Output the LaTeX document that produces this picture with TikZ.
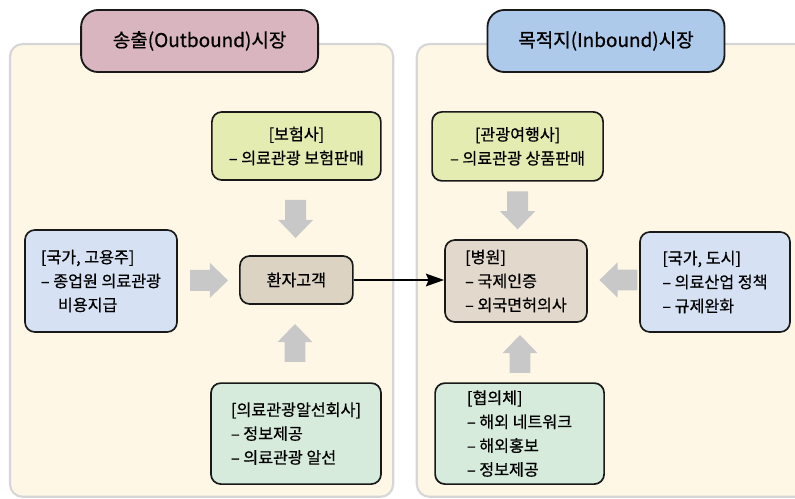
\documentclass[tikz,border=0pt]{standalone}
\usepackage{fontspec}
\setmainfont{Noto Sans CJK KR}[FakeBold=0.7]
\usetikzlibrary{arrows.meta}

\definecolor{panelfill}{HTML}{FFF7E5}
\definecolor{panelline}{HTML}{D6D6D6}
\definecolor{outfill}{HTML}{D9B5C0}
\definecolor{infill}{HTML}{AECAEA}
\definecolor{sellfill}{HTML}{E4ECB2}
\definecolor{govfill}{HTML}{D6E2F4}
\definecolor{patfill}{HTML}{DDD3C3}
\definecolor{hospfill}{HTML}{E2D8CB}
\definecolor{agentfill}{HTML}{D7EBDD}
\definecolor{arrowgray}{HTML}{C8C8C8}

\tikzset{
  panel/.style={draw=panelline, line width=1.5pt, fill=panelfill, rounded corners=9pt},
  marketbox/.style={draw=black!90, line width=1.3pt, rounded corners=12pt,
    minimum width=5.925cm, minimum height=1.55cm, font=\fontsize{13.5}{16}\selectfont},
  infobox/.style={draw=black!90, line width=1.2pt, rounded corners=7pt, inner sep=0pt,
    align=left, font=\fontsize{11.5}{17}\selectfont},
}

% gray block arrow: center, direction angle
\newcommand{\grayarrow}[2]{
  \fill[arrowgray, shift={(#1)}, rotate=#2]
    (-0.475,-0.26) -- (0.02,-0.26) -- (0.02,-0.44) -- (0.475,0)
    -- (0.02,0.44) -- (0.02,0.26) -- (-0.475,0.26) -- cycle;
}

\begin{document}
\begin{tikzpicture}
\useasboundingbox (0,0) rectangle (19.875,-12.475);

% market panels
\draw[panel] (0.25,-1.1) rectangle (9.83,-12.42);
\draw[panel] (10.42,-1.1) rectangle (20.4,-12.42);

\node[marketbox, fill=outfill] (outbound) at (4.99,-1.025) {송출(Outbound)시장};
\node[marketbox, fill=infill] (inbound) at (15.15,-1.025) {목적지(Inbound)시장};

% outbound side
\node[infobox, fill=sellfill, align=center, minimum width=4.225cm, minimum height=1.7cm]
  (insurer) at (7.41,-3.65) {[보험사]\\– 의료관광 보험판매};
\node[infobox, fill=govfill, minimum width=3.8cm, minimum height=2.55cm]
  (employer) at (2.525,-7.025) {[국가, 고용주]\\– 종업원 의료관광\\\hspace*{1.05em}비용지급};
\node[infobox, fill=patfill, align=center, minimum width=2.825cm, minimum height=1.2cm]
  (patient) at (7.41,-7.0) {환자고객};
\node[infobox, fill=agentfill, minimum width=4.25cm, minimum height=2.525cm]
  (agency) at (7.4,-10.84) {[의료관광알선회사]\\– 정보제공\\– 의료관광 알선};

% inbound side
\node[infobox, fill=sellfill, align=center, minimum width=4.275cm, minimum height=1.725cm]
  (travel) at (12.94,-3.66) {[관광여행사]\\– 의료관광 상품판매};
\node[infobox, fill=hospfill, minimum width=3.55cm, minimum height=2.05cm]
  (hospital) at (12.9,-7.025) {[병원]\\– 국제인증\\– 외국면허의사};
\node[infobox, fill=govfill, minimum width=3.75cm, minimum height=2.5cm]
  (city) at (17.875,-7.05) {[국가, 도시]\\– 의료산업 정책\\– 규제완화};
\node[infobox, fill=agentfill, minimum width=4.225cm, minimum height=2.525cm]
  (council) at (12.99,-10.84) {[협의체]\\– 해외 네트워크\\– 해외홍보\\– 정보제공};

% block arrows
\grayarrow{7.39,-5.475}{-90}
\grayarrow{5.225,-7.01}{0}
\grayarrow{7.375,-8.575}{90}
\grayarrow{12.94,-5.26}{-90}
\grayarrow{15.46,-7.0}{180}
\grayarrow{13.0,-8.85}{90}

\draw[line width=1.2pt, -{Stealth[length=13pt, width=9pt, inset=2pt]}]
  (patient.east) -- (patient.east -| hospital.west);
\end{tikzpicture}
\end{document}
